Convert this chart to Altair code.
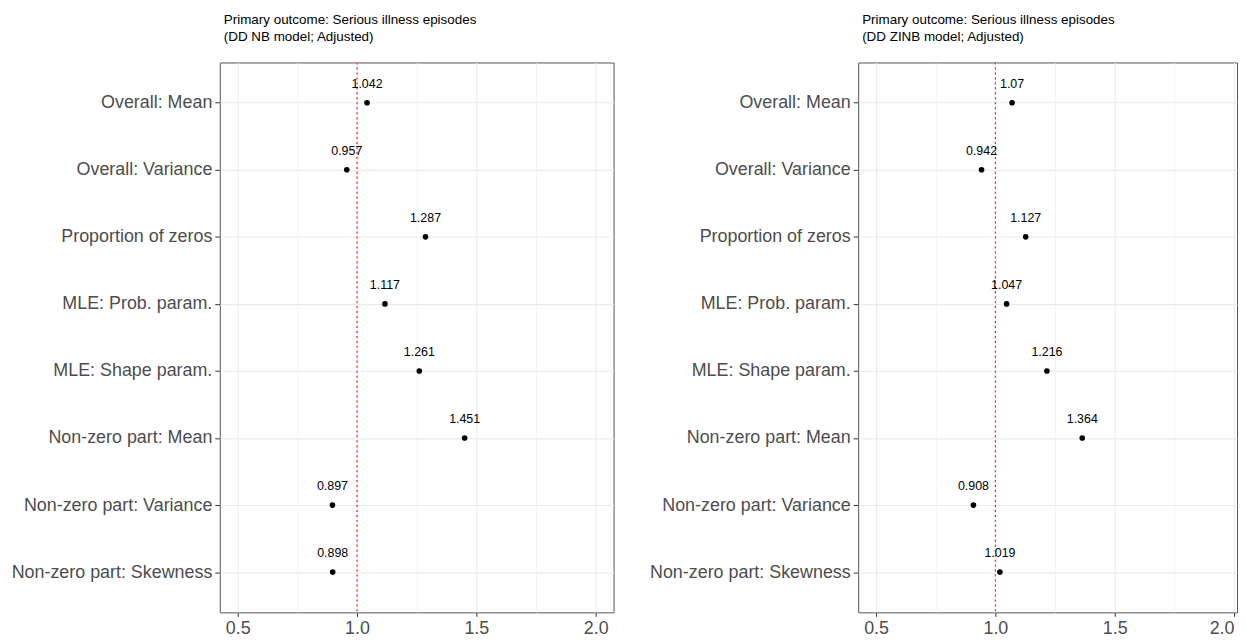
import altair as alt
import pandas as pd

# ---- data ----
measures = [
    "Overall: Mean",
    "Overall: Variance",
    "Proportion of zeros",
    "MLE: Prob. param.",
    "MLE: Shape param.",
    "Non-zero part: Mean",
    "Non-zero part: Variance",
    "Non-zero part: Skewness",
]
nb_values = [1.042, 0.957, 1.287, 1.117, 1.261, 1.451, 0.897, 0.898]
zinb_values = [1.07, 0.942, 1.127, 1.047, 1.216, 1.364, 0.908, 1.019]
nb_title = ["Primary outcome: Serious illness episodes", "(DD NB model; Adjusted)"]
zinb_title = ["Primary outcome: Serious illness episodes", "(DD ZINB model; Adjusted)"]
reference_line = [1.0]
x_ticks = [0.5, 0.75, 1.0, 1.25, 1.5, 1.75, 2.0]
left_domain = [0.425, 2.075]
right_domain = [0.425, 2.0125]   # right panel is cut off by the page edge

FONT = "Liberation Sans"
MINOR = "(datum.value * 4) % 2 == 1"


def panel(values, title, domain, width):
    df = pd.DataFrame({
        "measure": measures,
        "ratio": values,
        "label": [f"{v:g}" for v in values],
    })
    ref_df = pd.DataFrame({"ratio": reference_line})

    x = alt.X(
        "ratio:Q",
        scale=alt.Scale(domain=domain, nice=False, zero=False),
        axis=alt.Axis(
            title=None,
            values=x_ticks,
            labelExpr="(datum.value * 4) % 2 == 1 ? '' : format(datum.value, '.1f')",
            labelFontSize=18,
            labelColor="#4d4d4d",
            labelFont=FONT,
            labelPadding=3,
            labelFlush=6,
            tickSize=4,
            tickColor={"condition": {"test": MINOR, "value": "transparent"}, "value": "#333333"},
            grid=True,
            gridColor="#ebebeb",
            gridWidth={"condition": {"test": MINOR, "value": 0.6}, "value": 1.1},
            domain=False,
        ),
    )
    y = alt.Y(
        "measure:N",
        sort=measures,
        scale=alt.Scale(type="point", padding=0.6),
        axis=alt.Axis(
            title=None,
            labelFontSize=18,
            labelColor="#4d4d4d",
            labelFont=FONT,
            labelPadding=3,
            labelLimit=0,
            tickSize=5,
            tickColor="#333333",
            grid=True,
            gridColor="#ebebeb",
            gridWidth=1.1,
            domain=False,
        ),
    )

    rule = alt.Chart(ref_df).mark_rule(
        color="#ff1a1a", strokeDash=[2, 3], strokeWidth=1.2
    ).encode(x=x)
    base = alt.Chart(df).encode(x=x, y=y)
    pts = base.mark_point(filled=True, size=32, color="black", opacity=1)
    txt = base.mark_text(
        dy=-15, baseline="alphabetic", align="center", fontSize=12.5, font=FONT, color="black"
    ).encode(text="label:N")

    return alt.layer(rule, pts, txt).properties(
        width=width,
        height=553,
        title=alt.TitleParams(
            title,
            anchor="start",
            frame="group",
            fontSize=13.5,
            font=FONT,
            fontWeight="normal",
            color="black",
            lineHeight=17,
            offset=19,
            dx=4,
        ),
    )


chart = alt.hconcat(
    panel(nb_values, nb_title, left_domain, 396),
    panel(zinb_values, zinb_title, right_domain, 381),
    spacing=34,
).properties(
    padding={"left": 2, "top": 2, "right": 0, "bottom": 0}
).configure_view(
    stroke="#555555", strokeWidth=1
)

chart.save("out.html", embed_options={"renderer": "svg", "actions": False})
